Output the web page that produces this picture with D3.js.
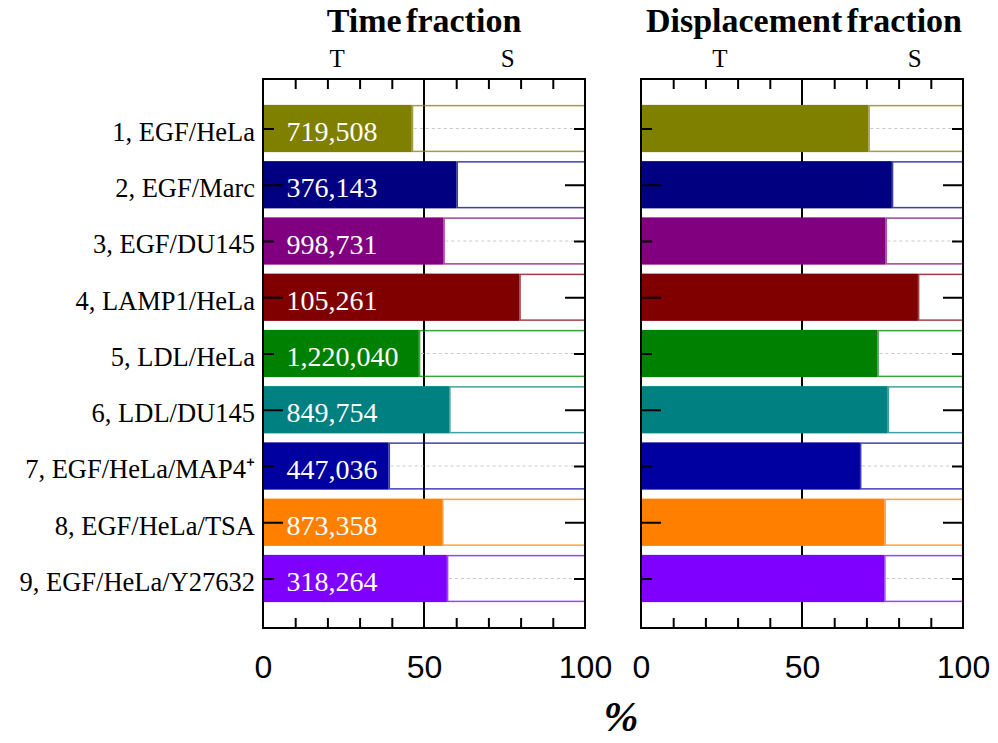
<!DOCTYPE html>
<html>
<head>
<meta charset="utf-8">
<script src="https://cdn.jsdelivr.net/npm/d3@7"></script>
<style>
  html, body { margin: 0; padding: 0; background: #fff; }
  svg { display: block; }
</style>
</head>
<body>
<svg id="chart" width="998" height="743"></svg>
<script>
// Conditions (rows, top to bottom)
const conditions = [
  "1, EGF/HeLa", "2, EGF/Marc", "3, EGF/DU145", "4, LAMP1/HeLa", "5, LDL/HeLa",
  "6, LDL/DU145", "7, EGF/HeLa/MAP4\u207A", "8, EGF/HeLa/TSA", "9, EGF/HeLa/Y27632"
];
// Number of observations per condition
const counts = ["719,508", "376,143", "998,731", "105,261", "1,220,040",
                "849,754", "447,036", "873,358", "318,264"];
// Percentage of time spent in T state
const timeT = [46.2, 60.1, 56.0, 79.6, 48.4, 57.8, 39.0, 55.6, 57.1];
// Percentage of displacement made in T state
const dispT = [70.6, 77.9, 75.9, 86.0, 73.4, 76.6, 68.0, 75.6, 75.5];
// Row colours
const colors = ["#808000", "#000080", "#800080", "#800000", "#008000",
                "#008080", "#0000a0", "#ff8000", "#8000ff"];
// Axis tick values
const axisLabels = [0, 50, 100];
const minorTicks = [10, 20, 30, 40, 60, 70, 80, 90];
// State labels above each panel: [label, position in %]
const timeStates = [["T", 23], ["S", 76]];
const dispStates = [["T", 24.5], ["S", 85]];
const panelTitles = ["Time fraction", "Displacement fraction"];

const svg = d3.select("#chart");
const plotTop = 79, plotBottom = 628;
const y = d3.scaleLinear().domain([0.12, 9.88]).range([plotTop, plotBottom]);
const half = 0.42;
const rows = conditions.map((c, i) => i + 1);

const panels = [
  { x: d3.scaleLinear().domain([0, 100]).range([263, 585]), vals: timeT, title: panelTitles[0], states: timeStates, withLabels: true },
  { x: d3.scaleLinear().domain([0, 100]).range([641, 963]), vals: dispT, title: panelTitles[1], states: dispStates, withLabels: false }
];

panels.forEach(p => {
  const x = p.x;
  const g = svg.append("g");

  // Central 50 % line
  g.append("line")
    .attr("x1", x(50)).attr("x2", x(50))
    .attr("y1", plotTop).attr("y2", plotBottom)
    .attr("stroke", "#000").attr("stroke-width", 2);

  const data = rows.map((r, i) => ({ r, v: p.vals[i], c: colors[i], n: counts[i] }));

  // Remaining fraction (S): outlined band
  g.selectAll("rect.rest").data(data).join("rect")
    .attr("class", "rest")
    .attr("x", d => x(d.v) + 0.75)
    .attr("y", d => y(d.r - half) + 0.75)
    .attr("width", d => x(100) - x(d.v) - 0.75)
    .attr("height", d => y(d.r + half) - y(d.r - half) - 1.5)
    .attr("fill", "none")
    .attr("stroke", d => d.c)
    .attr("stroke-opacity", 0.75)
    .attr("stroke-width", 1.5);

  // Dashed guide on odd rows
  g.selectAll("line.guide").data(data.filter(d => d.r % 2 === 1)).join("line")
    .attr("class", "guide")
    .attr("x1", d => x(d.v) + 2).attr("x2", x(100) - 4)
    .attr("y1", d => y(d.r)).attr("y2", d => y(d.r))
    .attr("stroke", "#c8c8c8").attr("stroke-width", 1)
    .attr("stroke-dasharray", "3,3");

  // T fraction: filled bar
  g.selectAll("rect.bar").data(data).join("rect")
    .attr("class", "bar")
    .attr("x", x(0))
    .attr("y", d => y(d.r - half))
    .attr("width", d => x(d.v) - x(0))
    .attr("height", d => y(d.r + half) - y(d.r - half))
    .attr("fill", d => d.c);

  if (p.withLabels) {
    g.selectAll("text.count").data(data).join("text")
      .attr("class", "count")
      .attr("x", x(7.3))
      .attr("y", d => y(d.r))
      .attr("dy", "0.45em")
      .attr("fill", "#fff")
      .style("font-family", "'Liberation Serif', 'Times New Roman', serif")
      .style("font-size", "28px")
      .text(d => d.n);
  }

  // Frame
  g.append("rect")
    .attr("x", x(0)).attr("y", plotTop)
    .attr("width", x(100) - x(0)).attr("height", plotBottom - plotTop)
    .attr("fill", "none").attr("stroke", "#000").attr("stroke-width", 2);

  // Minor ticks top & bottom (inward)
  const tTop = d3.axisTop(x).tickValues(minorTicks).tickSize(-10).tickFormat("");
  const tBot = d3.axisBottom(x).tickValues(minorTicks).tickSize(-10).tickFormat("");
  [[tTop, plotTop], [tBot, plotBottom]].forEach(([ax, yy]) => {
    const a = g.append("g").attr("transform", `translate(0,${yy})`).call(ax);
    a.select(".domain").remove();
    a.selectAll(".tick line").attr("stroke", "#000").attr("stroke-width", 2);
  });

  // Row ticks on both sides: long for even rows, short for odd rows
  [[rows.filter(r => r % 2 === 0), 20], [rows.filter(r => r % 2 === 1), 11]].forEach(([vals, len]) => {
    const l = g.append("g").attr("transform", `translate(${x(0)},0)`)
      .call(d3.axisLeft(y).tickValues(vals).tickSize(-len).tickFormat(""));
    const rr = g.append("g").attr("transform", `translate(${x(100)},0)`)
      .call(d3.axisRight(y).tickValues(vals).tickSize(-len).tickFormat(""));
    [l, rr].forEach(a => {
      a.select(".domain").remove();
      a.selectAll(".tick line").attr("stroke", "#000").attr("stroke-width", 2);
    });
  });

  // Category labels
  if (p.withLabels) {
    const lab = g.append("g").attr("transform", `translate(${x(0)},0)`)
      .call(d3.axisLeft(y).tickValues(rows).tickSize(0).tickPadding(8)
        .tickFormat(r => conditions[r - 1]));
    lab.select(".domain").remove();
    lab.selectAll("text")
      .attr("dy", "0.45em")
      .attr("fill", "#000")
      .style("font-family", "'Liberation Serif', 'Times New Roman', serif")
      .style("font-size", "26.5px");
  }

  // Bottom numeric labels
  const bl = g.append("g").attr("transform", `translate(0,${plotBottom})`)
    .call(d3.axisBottom(x).tickValues(axisLabels).tickSize(0).tickPadding(0));
  bl.select(".domain").remove();
  bl.selectAll("text")
    .attr("y", 50).attr("dy", 0)
    .attr("fill", "#000")
    .style("font-family", "'Liberation Sans', Arial, sans-serif")
    .style("font-size", "32px");

  // State labels
  g.selectAll("text.state").data(p.states).join("text")
    .attr("class", "state")
    .attr("x", d => x(d[1])).attr("y", 67)
    .attr("text-anchor", "middle")
    .style("font-family", "'Liberation Serif', 'Times New Roman', serif")
    .style("font-size", "25px")
    .text(d => d[0]);

  // Panel title
  g.append("text")
    .attr("x", x(50) + (p.withLabels ? 0 : 2)).attr("y", 32)
    .attr("text-anchor", "middle")
    .style("font-family", "'Liberation Serif', 'Times New Roman', serif")
    .style("font-weight", "bold")
    .style("font-size", "34px")
    .style("word-spacing", "-4px")
    .text(p.title);
});

// Shared axis title
svg.append("text")
  .attr("x", 621).attr("y", 731)
  .attr("text-anchor", "middle")
  .style("font-family", "'Liberation Serif', 'Times New Roman', serif")
  .style("font-style", "italic")
  .style("font-weight", "bold")
  .style("font-size", "42px")
  .text("%");
</script>
</body>
</html>
